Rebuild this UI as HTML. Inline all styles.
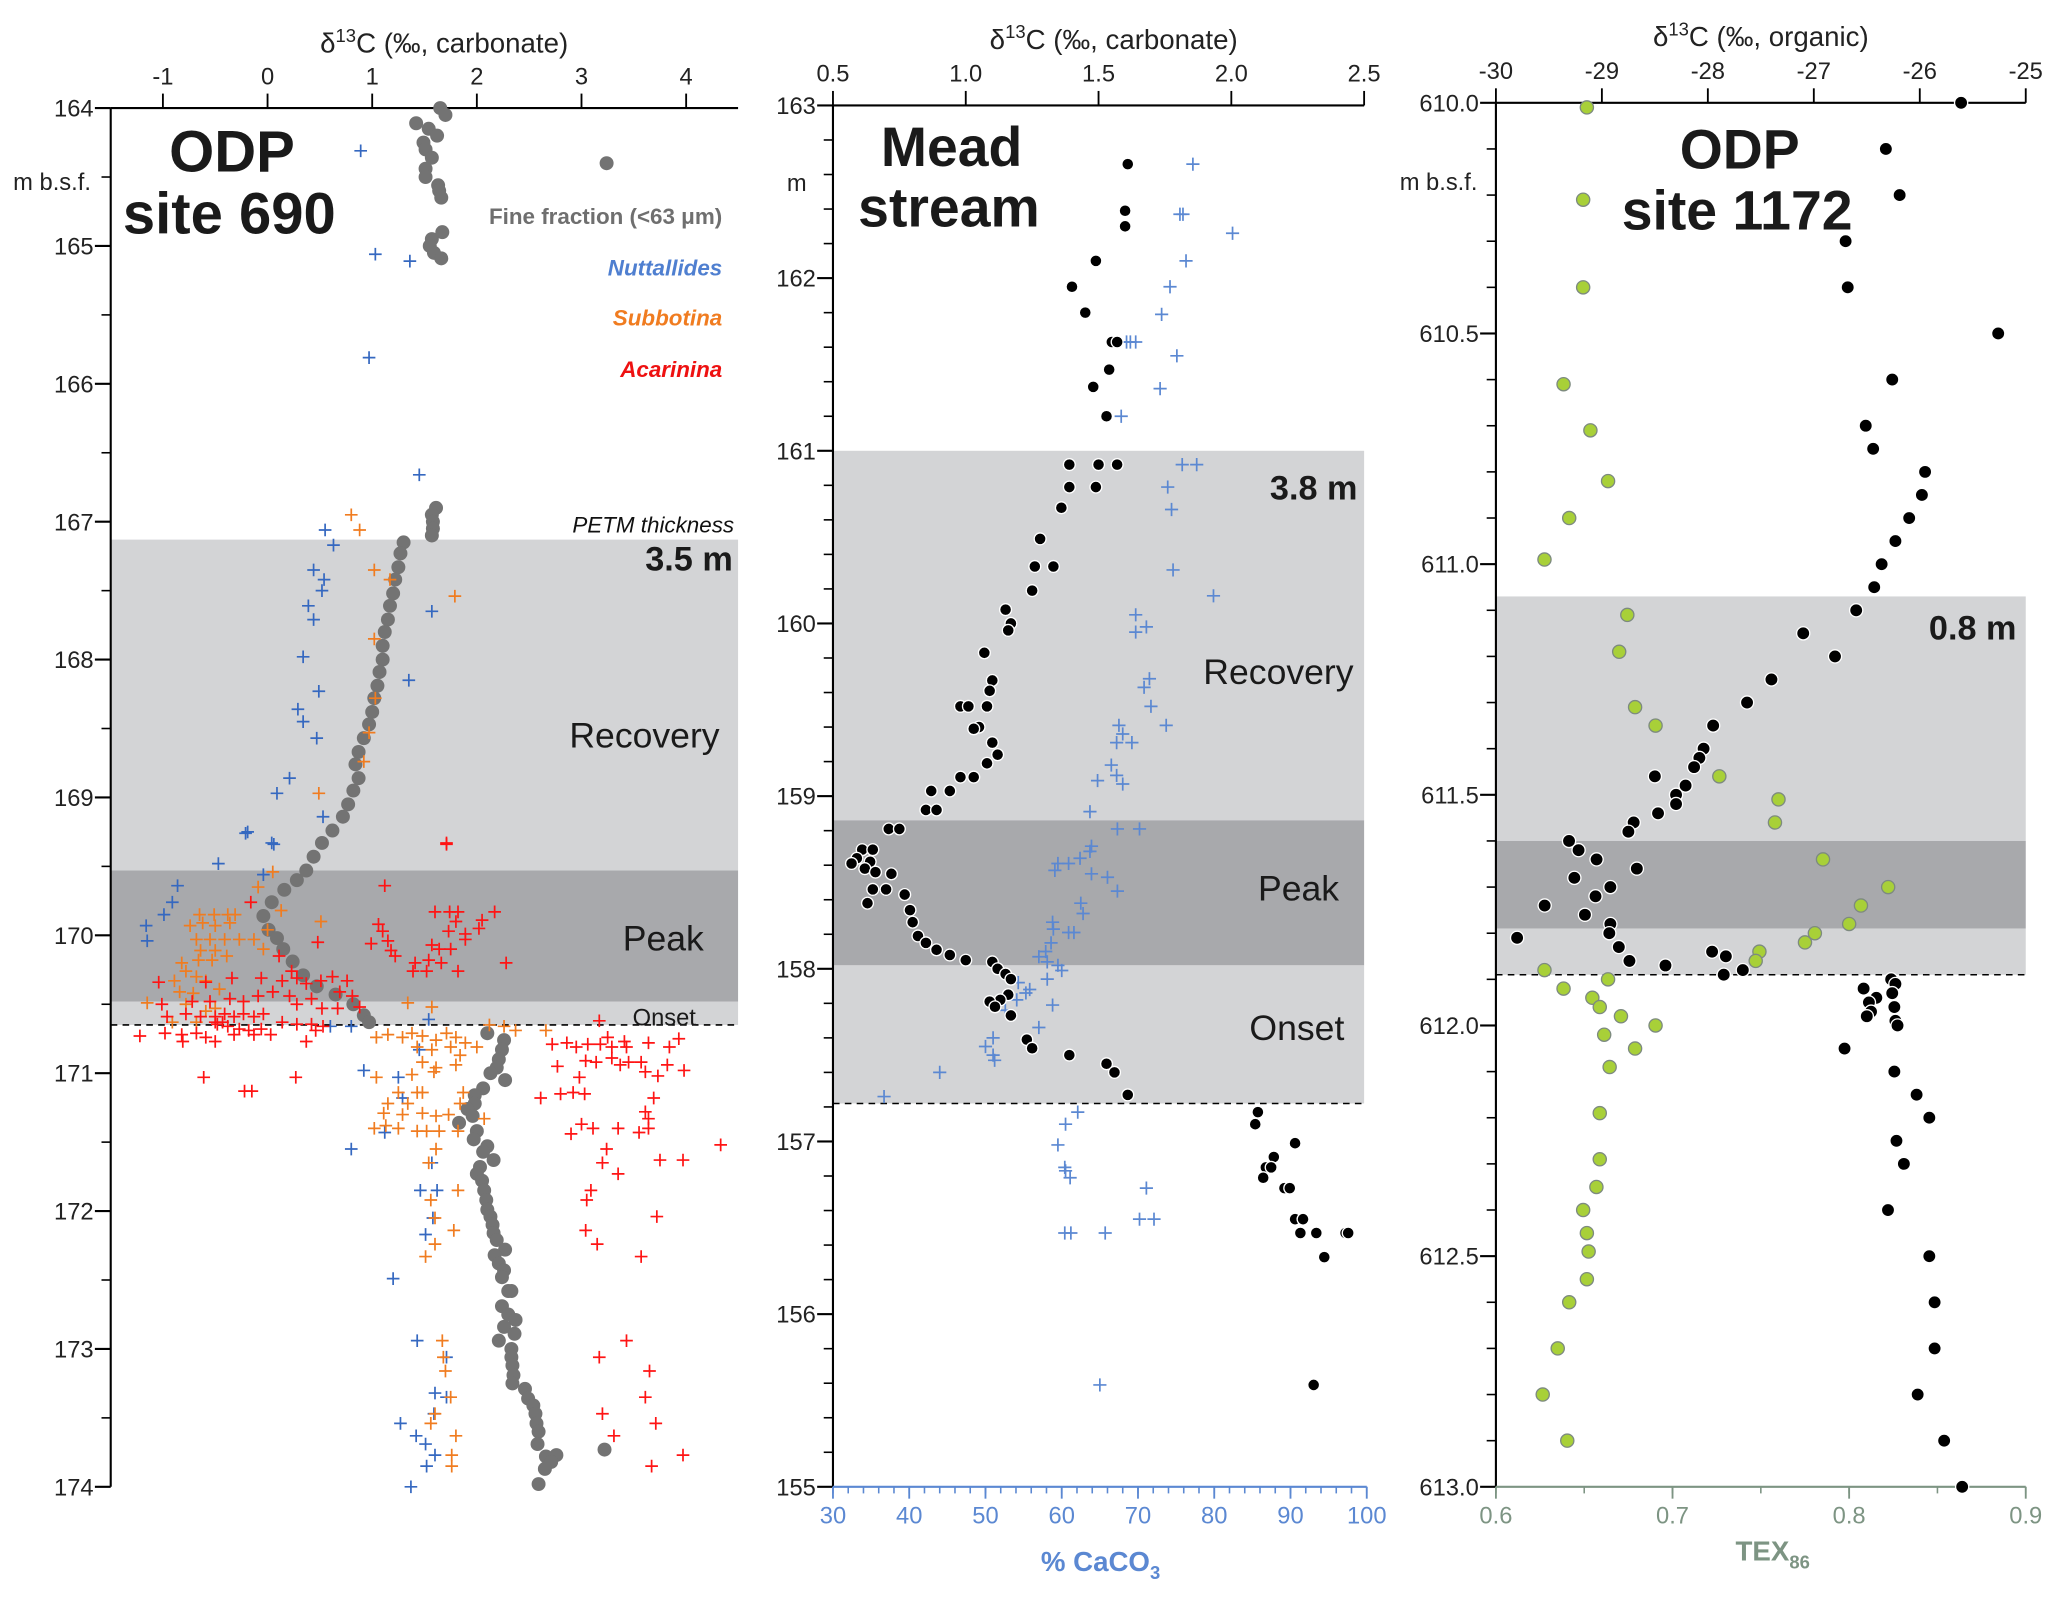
<!DOCTYPE html>
<html><head><meta charset="utf-8"><style>
html,body{margin:0;padding:0;background:#fff;}
svg{display:block;font-family:"Liberation Sans",Arial,sans-serif;}
</style></head><body>
<svg id="chart" width="2067" height="1597" viewBox="0 0 1568.3 1211.6" preserveAspectRatio="none" xmlns="http://www.w3.org/2000/svg">
<g id="bands"></g><g id="axes"></g><g id="marks"></g><g id="labels"></g>
</svg>
<script>
// ---------- Panel 1: ODP site 690 (d13C carbonate, m b.s.f.) ----------
const p1Ticks = [-1,0,1,2,3,4];
const p1DepthTicks = [164,165,166,167,168,169,170,171,172,173,174];
const p1Fine = [[1.65,164.0],[1.70,164.05],[1.42,164.11],[1.54,164.15],[1.62,164.2],[1.49,164.25],[1.51,164.3],[1.57,164.36],[1.51,164.44],[1.51,164.5],[1.63,164.56],[1.64,164.6],[1.66,164.65],[3.24,164.4],[1.67,164.9],[1.57,164.95],[1.55,165.0],[1.59,165.05],[1.66,165.09],[1.61,166.9],[1.57,166.95],[1.58,167.0],[1.58,167.05],[1.57,167.1],
[1.30,167.15],[1.27,167.23],[1.25,167.33],[1.22,167.42],[1.20,167.52],[1.17,167.61],[1.15,167.71],[1.12,167.8],[1.10,167.9],[1.10,168.0],[1.07,168.09],[1.05,168.19],[1.02,168.28],[1.0,168.38],[0.97,168.47],[0.92,168.57],[0.87,168.67],[0.84,168.76],[0.87,168.86],[0.82,168.95],[0.77,169.05],[0.72,169.14],[0.62,169.24],[0.52,169.33],[0.44,169.43],[0.37,169.53],[0.28,169.6],[0.16,169.67],[0.04,169.76],[-0.04,169.86],[0.01,169.96],[0.09,170.02],[0.15,170.1],[0.24,170.19],[0.34,170.29],[0.47,170.37],[0.65,170.43],[0.82,170.5],[0.92,170.58],[0.97,170.63],
[2.10,170.71],[2.26,170.76],[2.24,170.83],[2.21,170.9],[2.19,170.96],[2.27,171.05],[2.13,171.0],[2.06,171.11],[1.98,171.16],[1.98,171.22],[1.91,171.26],[1.96,171.31],[1.83,171.36],[2.0,171.42],[1.97,171.48],[2.10,171.53],[2.06,171.57],[2.16,171.63],[2.03,171.68],[2.0,171.73],[2.05,171.78],[2.07,171.85],[2.09,171.92],[2.10,171.99],[2.13,172.04],[2.15,172.1],[2.16,172.16],[2.19,172.21],[2.27,172.28],[2.17,172.32],[2.21,172.38],[2.26,172.43],[2.24,172.48],[2.30,172.58],[2.33,172.58],[2.24,172.69],[2.30,172.75],[2.37,172.79],[2.26,172.84],[2.36,172.89],[2.21,172.94],[2.33,173.0],[2.33,173.06],[2.34,173.12],[2.35,173.19],[2.34,173.25],[2.46,173.29],[2.49,173.36],[2.54,173.41],[2.56,173.47],[2.57,173.54],[2.59,173.6],[2.58,173.69],[2.66,173.78],[2.76,173.77],[2.71,173.82],[2.65,173.87],[2.59,173.98],[3.22,173.73]];
const p1Nutt = [[0.89,164.31],[1.03,165.06],[1.36,165.11],[0.97,165.81],[1.45,166.66],[0.55,167.06],[0.63,167.17],[0.44,167.35],[0.54,167.42],[0.52,167.5],[0.39,167.61],[0.44,167.71],[0.34,167.98],[0.49,168.23],[0.29,168.36],[0.34,168.45],[0.47,168.57],[0.21,168.86],[0.09,168.97],[-0.21,169.26],[0.04,169.33],[1.57,167.65],[1.35,168.15],
[0.53,169.14],[-0.19,169.25],[0.06,169.34],[-0.47,169.48],[-0.04,169.56],[-0.86,169.64],[-0.91,169.76],[-0.99,169.85],[-1.16,169.93],[-1.15,170.04],[0.60,170.66],[0.80,170.66],[1.54,170.61],[1.45,170.83],[0.92,170.98],[1.25,171.03],[1.29,171.18],[1.12,171.43],[0.80,171.55],[1.57,171.65],[1.46,171.85],[1.62,171.85],[1.58,172.05],[1.51,172.17],[1.20,172.49],[1.43,172.94],[1.71,173.06],[1.60,173.32],[1.71,173.35],[1.59,173.47],[1.27,173.54],[1.42,173.63],[1.51,173.69],[1.60,173.77],[1.52,173.85],[1.37,174.0]];
const p1Subb = [[0.80,166.95],[0.88,167.06],[1.02,167.35],[1.17,167.42],[1.79,167.54],[1.02,167.85],[1.03,168.28],[0.97,168.53],[0.92,168.74],[0.49,168.97],
[0.05,169.54],[-0.09,169.65],[0.13,169.82],[0.0,169.96],[0.51,169.9],[-0.04,170.1],[-0.65,169.85],[-0.51,169.85],[-0.38,169.85],[-0.31,169.85],[-0.74,169.93],[-0.62,169.91],[-0.50,169.93],[-0.36,169.91],[-0.68,170.03],[-0.55,170.03],[-0.41,170.03],[-0.27,170.03],[-0.13,170.03],[-0.64,170.11],[-0.50,170.11],[-0.39,170.15],[-0.66,170.18],[-0.53,170.18],[-0.82,170.2],[-0.78,170.26],[-0.68,170.3],[-0.89,170.33],[-0.59,170.33],[-0.84,170.41],[-0.71,170.42],[-0.46,170.39],[-1.15,170.49],[-0.78,170.5],[-0.59,170.55],[-0.50,170.53],[-0.91,170.63],[-0.68,170.63],[1.34,170.49],[1.57,170.52],
[1.04,170.74],[1.15,170.72],[1.29,170.74],[1.38,170.71],[1.48,170.73],[1.61,170.76],[1.71,170.71],[1.80,170.74],[1.89,170.78],[2.0,170.81],[2.26,170.66],[2.12,170.65],[2.37,170.69],[2.66,170.69],[1.43,170.81],[1.57,170.83],[1.75,170.81],[1.84,170.87],[1.48,170.92],[1.61,170.96],[1.80,170.94],[1.38,171.01],[1.59,170.99],[1.04,171.03],[1.25,171.14],[1.43,171.14],[1.15,171.22],[1.34,171.22],[1.48,171.14],[1.87,171.14],[1.84,171.22],[1.11,171.29],[1.29,171.3],[1.48,171.29],[1.61,171.31],[1.73,171.3],[2.07,171.33],[1.02,171.4],[1.13,171.38],[1.25,171.4],[1.43,171.42],[1.52,171.42],[1.64,171.42],[1.82,171.42],[1.61,171.55],[1.54,171.65],[1.82,171.85],[1.56,171.92],[1.60,172.05],[1.78,172.14],[1.60,172.24],[1.51,172.33],[1.67,172.94],[1.68,173.06],[1.70,173.16],[1.75,173.35],[1.60,173.47],[1.56,173.54],[1.80,173.63],[1.76,173.77],[1.76,173.85]];
const p1Acar = [[1.71,169.33],[1.71,169.34],[1.12,169.64],[-0.16,169.76],[1.60,169.83],[1.74,169.83],[1.82,169.83],[2.17,169.83],[1.06,169.92],[1.80,169.9],[2.05,169.89],[2.02,169.95],[1.89,169.99],[1.73,169.97],[1.10,169.97],[0.48,170.05],[0.99,170.06],[1.15,170.04],[1.18,170.11],[1.22,170.15],[1.57,170.07],[1.64,170.1],[1.75,170.1],[1.89,170.03],[1.41,170.2],[1.54,170.18],[1.66,170.2],[2.28,170.2],[1.39,170.26],[1.82,170.26],[1.52,170.26],[0.11,170.15],[0.23,170.26],[-0.34,170.31],[-0.06,170.31],[0.14,170.33],[0.28,170.31],[0.37,170.35],[0.51,170.33],[0.62,170.3],[0.76,170.33],[-1.04,170.34],[-0.59,170.34],[0.69,170.41],[0.81,170.44],[0.88,170.52],[0.67,170.53],[-1.01,170.5],[-0.72,170.48],[-0.55,170.48],[-0.36,170.46],[-0.23,170.48],[-0.09,170.44],[0.05,170.41],[0.21,170.44],[0.28,170.5],[0.42,170.46],[0.52,170.53],[-0.96,170.59],[-0.78,170.57],[-0.64,170.59],[-0.50,170.59],[-0.41,170.57],[-0.32,170.59],[-0.23,170.57],[-0.13,170.59],[-0.04,170.57],[0.14,170.63],[0.28,170.645],[0.42,170.645],[0.53,170.66],[-0.50,170.63],[-0.48,170.645],[-0.43,170.63],[-0.38,170.66],[-0.27,170.68],[-0.18,170.69],[-0.06,170.68],[0.03,170.72],[-1.22,170.73],[-0.98,170.71],[-0.82,170.72],[-0.68,170.71],[-0.59,170.74],[-0.81,170.77],[-0.50,170.77],[-0.32,170.72],[-0.13,170.72],[0.37,170.77],[0.46,170.69],[3.17,170.62],[-0.61,171.03],[-0.22,171.13],[-0.15,171.13],[0.27,171.03],
[2.72,170.79],[2.86,170.78],[2.95,170.81],[3.06,170.79],[3.18,170.79],[3.25,170.74],[3.29,170.81],[3.41,170.77],[3.43,170.81],[3.64,170.78],[3.84,170.81],[3.93,170.75],[3.29,170.89],[3.04,170.91],[2.77,170.95],[2.98,171.03],[3.14,170.92],[3.37,170.94],[3.45,170.92],[3.57,170.92],[3.61,170.99],[3.73,171.02],[3.82,170.94],[3.98,170.98],[2.61,171.18],[2.80,171.15],[2.92,171.14],[3.03,171.15],[3.69,171.18],[3.61,171.28],[3.64,171.33],[2.90,171.44],[3.0,171.37],[3.11,171.4],[3.35,171.4],[3.55,171.43],[3.64,171.4],[3.24,171.55],[3.20,171.65],[4.33,171.52],[3.75,171.63],[3.97,171.63],[3.35,171.73],[3.09,171.85],[3.05,171.92],[3.72,172.04],[3.04,172.14],[3.15,172.24],[3.57,172.33],[3.43,172.94],[3.17,173.06],[3.65,173.16],[3.61,173.35],[3.20,173.47],[3.71,173.54],[3.31,173.63],[3.97,173.77],[3.67,173.85]];
const p1Bands = [[167.13,169.53,'light'],[169.53,170.48,'dark'],[170.48,170.65,'light']];
const p1Onset = 170.65;

// ---------- Panel 2: Mead stream ----------
const p2Ticks = [0.5,1.0,1.5,2.0,2.5];
const p2DepthTicks = [155,156,157,158,159,160,161,162,163];
const p2CaTicks = [30,40,50,60,70,80,90,100];
const p2D13C = [[1.61,162.66],[1.60,162.39],[1.60,162.3],[1.49,162.1],[1.40,161.95],[1.45,161.8],[1.55,161.63],[1.57,161.63],[1.54,161.47],[1.48,161.37],[1.53,161.2],[1.39,160.92],[1.50,160.92],[1.57,160.92],[1.39,160.79],[1.49,160.79],[1.36,160.67],[1.28,160.49],[1.26,160.33],[1.33,160.33],[1.25,160.19],[1.15,160.08],[1.17,160.0],[1.16,159.96],[1.07,159.83],[1.10,159.67],[1.09,159.61],[0.98,159.52],[1.01,159.52],[1.08,159.52],[1.05,159.4],[1.03,159.39],[1.10,159.31],[1.12,159.24],[1.08,159.19],[0.98,159.11],[1.03,159.11],[0.87,159.03],[0.94,159.03],[0.85,158.92],[0.89,158.92],[0.71,158.81],[0.75,158.81],[0.61,158.69],[0.65,158.69],[0.59,158.64],[0.64,158.62],[0.62,158.58],[0.66,158.56],[0.57,158.61],[0.72,158.55],[0.65,158.46],[0.70,158.46],[0.63,158.38],[0.77,158.43],[0.79,158.34],[0.80,158.27],[0.82,158.19],[0.85,158.15],[0.89,158.11],[0.94,158.08],[1.00,158.05],[1.10,158.04],[1.12,158.0],[1.15,157.97],[1.17,157.94],[1.16,157.85],[1.13,157.82],[1.09,157.81],[1.11,157.78],[1.17,157.73],[1.23,157.59],[1.25,157.54],[1.39,157.5],[1.53,157.45],[1.56,157.4],[1.61,157.27],[2.10,157.17],[2.09,157.1],[2.24,156.99],[2.16,156.91],[2.13,156.85],[2.15,156.85],[2.12,156.79],[2.20,156.73],[2.22,156.73],[2.24,156.55],[2.27,156.55],[2.26,156.47],[2.32,156.47],[2.43,156.47],[2.44,156.47],[2.35,156.33],[2.31,155.59]];
const p2CaCO3 = [[77.2,162.66],[75.5,162.37],[75.9,162.37],[82.4,162.26],[76.3,162.1],[74.2,161.95],[73.1,161.79],[68.5,161.63],[69.0,161.63],[69.7,161.63],[75.1,161.55],[72.9,161.36],[67.8,161.2],[75.8,160.92],[77.7,160.92],[73.9,160.79],[74.4,160.66],[74.6,160.31],[79.9,160.16],[69.7,160.05],[71.1,159.98],[69.7,159.95],[71.5,159.68],[70.8,159.63],[71.7,159.52],[73.7,159.41],[67.5,159.41],[68.0,159.36],[67.2,159.31],[69.2,159.31],[66.5,159.18],[67.2,159.12],[68.0,159.07],
[64.7,159.09],[63.7,158.91],[67.3,158.81],[70.2,158.81],[63.9,158.71],[63.7,158.68],[62.4,158.64],[60.9,158.61],[59.5,158.61],[59.1,158.57],[63.9,158.55],[66.0,158.53],[67.3,158.45],[62.5,158.38],[62.8,158.32],[58.8,158.27],[58.9,158.23],[60.9,158.21],[61.6,158.21],[58.6,158.15],[57.9,158.1],[57.0,158.07],[58.1,158.04],[59.5,158.02],[60.0,157.99],[58.1,157.94],[54.3,157.92],[55.8,157.88],[55.3,157.86],[54.1,157.82],[58.8,157.79],[52.6,157.76],[57.0,157.66],[51.0,157.6],[50.0,157.55],[51.0,157.5],[51.2,157.47],[44.0,157.4],[36.7,157.26],[62.1,157.17],[60.5,157.1],[59.5,156.98],[60.4,156.85],[60.5,156.83],[61.1,156.79],[71.1,156.73],[70.2,156.55],[72.1,156.55],[60.4,156.47],[61.2,156.47],[65.7,156.47],[65.0,155.59]];
const p2Bands = [[161.0,158.86,'light'],[158.86,158.02,'dark'],[158.02,157.22,'light']];
const p2Onset = 157.22;

// ---------- Panel 3: ODP site 1172 ----------
const p3Ticks = [-30,-29,-28,-27,-26,-25];
const p3DepthTicks = [610.0,610.5,611.0,611.5,612.0,612.5,613.0];
const p3TexTicks = [0.6,0.7,0.8,0.9];
const p3D13C = [[-25.61,610.0],[-26.32,610.1],[-26.19,610.2],[-26.70,610.3],[-26.68,610.4],[-25.26,610.5],[-26.26,610.6],[-26.51,610.7],[-26.44,610.75],[-25.95,610.8],[-25.98,610.85],[-26.10,610.9],[-26.23,610.95],[-26.36,611.0],[-26.43,611.05],[-26.60,611.1],[-27.10,611.15],[-26.80,611.2],[-27.40,611.25],[-27.63,611.3],[-27.95,611.35],[-28.04,611.4],[-28.08,611.42],[-28.13,611.44],[-28.50,611.46],[-28.21,611.48],[-28.30,611.5],[-28.30,611.52],[-28.47,611.54],[-28.70,611.56],[-28.75,611.58],[-29.31,611.6],[-29.22,611.62],[-29.05,611.64],[-28.67,611.66],[-29.26,611.68],[-28.92,611.7],[-29.06,611.72],[-29.54,611.74],[-29.16,611.76],[-28.92,611.78],[-28.93,611.8],[-29.80,611.81],[-28.84,611.83],[-28.74,611.86],[-28.40,611.87],[-27.96,611.84],[-27.83,611.85],[-27.85,611.89],[-27.67,611.88],[-26.27,611.9],[-26.23,611.91],[-26.53,611.92],[-26.41,611.94],[-26.26,611.93],[-26.48,611.95],[-26.24,611.96],[-26.46,611.97],[-26.50,611.98],[-26.23,611.99],[-26.21,612.0],[-26.71,612.05],[-26.24,612.1],[-26.03,612.15],[-25.91,612.2],[-26.22,612.25],[-26.15,612.3],[-26.30,612.4],[-25.91,612.5],[-25.86,612.6],[-25.86,612.7],[-26.02,612.8],[-25.77,612.9],[-25.60,613.0]];
const p3Tex = [[0.6515,610.01],[0.6494,610.21],[0.6494,610.4],[0.6383,610.61],[0.6535,610.71],[0.6635,610.82],[0.6415,610.9],[0.6275,610.99],[0.6744,611.11],[0.6698,611.19],[0.6788,611.31],[0.6904,611.35],[0.7265,611.46],[0.760,611.51],[0.758,611.56],[0.7852,611.64],[0.8221,611.7],[0.8067,611.74],[0.800,611.78],[0.7806,611.8],[0.775,611.82],[0.7492,611.84],[0.7471,611.86],[0.6275,611.88],[0.6635,611.9],[0.6383,611.92],[0.6546,611.94],[0.6588,611.96],[0.6708,611.98],[0.6904,612.0],[0.6613,612.02],[0.6788,612.05],[0.6644,612.09],[0.6588,612.19],[0.6588,612.29],[0.6569,612.35],[0.6494,612.4],[0.6515,612.45],[0.6525,612.49],[0.6515,612.55],[0.6415,612.6],[0.635,612.7],[0.6265,612.8],[0.6404,612.9]];
const p3Bands = [[611.07,611.6,'light'],[611.6,611.79,'dark'],[611.79,611.89,'light']];
const p3Onset = 611.89;

// ---------- helpers ----------
const NS='http://www.w3.org/2000/svg';
function lin(d0,d1,r0,r1){return v=>r0+(v-d0)*(r1-r0)/(d1-d0);}
function el(parent,tag,attrs,text){const e=document.createElementNS(NS,tag);for(const k in attrs)e.setAttribute(k,attrs[k]);if(text!==undefined)e.textContent=text;parent.appendChild(e);return e;}
const gB=document.getElementById('bands'),gA=document.getElementById('axes'),gM=document.getElementById('marks'),gL=document.getElementById('labels');
const LIGHT='#d3d4d6',DARK='#a8a9ac';

function bands(list,y,xl,xr,onset,pname){
  list.forEach(b=>{const y0=y(b[0]),y1=y(b[1]);
    const r=el(gB,'rect',{x:xl,y:Math.min(y0,y1),width:xr-xl,height:Math.abs(y1-y0),fill:b[2]=='dark'?DARK:LIGHT});
    
    });
  const l=el(gB,'line',{x1:xl,x2:xr,y1:y(onset),y2:y(onset),stroke:'#000','stroke-width':1.2,'stroke-dasharray':'5,4'});
  
  
}
function topAxis(x,ticks,xl,xr,yt,fmt,pname){
  const a=el(gA,'line',{x1:xl,x2:xr,y1:yt,y2:yt,stroke:'#000','stroke-width':1.6});
  
  
  ticks.forEach(t=>{el(gA,'line',{x1:x(t),x2:x(t),y1:yt-11,y2:yt,stroke:'#000','stroke-width':1.4});
    const tx=el(gL,'text',{x:x(t),y:yt-18,'text-anchor':'middle','font-size':18,fill:'#222'},fmt(t));
    
    });
}
function leftAxis(y,ticks,minor,xl,yt,yb,fmt,pname){
  const a=el(gA,'line',{x1:xl,x2:xl,y1:yt,y2:yb,stroke:'#000','stroke-width':1.6});
  
  
  minor.forEach(t=>el(gA,'line',{x1:xl-7,x2:xl,y1:y(t),y2:y(t),stroke:'#000','stroke-width':1.2}));
  ticks.forEach(t=>{el(gA,'line',{x1:xl-12,x2:xl,y1:y(t),y2:y(t),stroke:'#000','stroke-width':1.6});
    const tx=el(gL,'text',{x:xl-13,y:y(t)+6.5,'text-anchor':'end','font-size':18,fill:'#222'},fmt(t));
    
    });
}
function bottomAxis(x,ticks,minor,xl,xr,yb,color,fmt,pname){
  const a=el(gA,'line',{x1:xl,x2:xr,y1:yb,y2:yb,stroke:color,'stroke-width':1.6});
  
  
  minor.forEach(t=>el(gA,'line',{x1:x(t),x2:x(t),y1:yb,y2:yb+5,stroke:color,'stroke-width':1.2}));
  ticks.forEach(t=>{el(gA,'line',{x1:x(t),x2:x(t),y1:yb,y2:yb+9,stroke:color,'stroke-width':1.4});
    const tx=el(gL,'text',{x:x(t),y:yb+28,'text-anchor':'middle','font-size':18,fill:color},fmt(t));
    
    });
}
function dots(data,x,y,r,fill,stroke,name){
  data.forEach(d=>{const c=el(gM,'circle',{cx:x(d[0]),cy:y(d[1]),r:r,fill:fill,stroke:stroke,'stroke-width':stroke=='none'?0:1});
    
    });
}
function crosses(data,x,y,s,color,name){
  data.forEach(d=>{const cx=x(d[0]),cy=y(d[1]);
    const p=el(gM,'path',{d:`M${cx-s},${cy}H${cx+s}M${cx},${cy-s}V${cy+s}`,stroke:color,'stroke-width':1.3,fill:'none'});
    
    });
}
function txt(x,y,s,attrs,name){const t=el(gL,'text',Object.assign({x:x,y:y},attrs),s);
  
  return t;}
function d13title(cx,y,suffix,name){
  const t=el(gL,'text',{x:cx,y:y,'text-anchor':'middle','font-size':21,fill:'#222'});
  
  
  el(t,'tspan',{},'δ');el(t,'tspan',{dy:-8,'font-size':14},'13');el(t,'tspan',{dy:8},'C (‰, '+suffix+')');
}
function range(a,b,s){const r=[];for(let v=a;v<=b+1e-9;v+=s)r.push(Math.round(v*1000)/1000);return r;}

// ---------- Panel 1 ----------
{const x=lin(0,1,203,282.4),y=lin(164,174,82,1128),xl=84,xr=560;
 bands(p1Bands,y,xl,xr,p1Onset,'site690');
 topAxis(x,p1Ticks,xl,xr,82,t=>String(t),'site690');
 leftAxis(y,p1DepthTicks,range(164.5,173.5,1),xl,82,1128,t=>String(t),'site690');
 d13title(337,40,'carbonate','site690-x-axis-title');
 dots(p1Fine,x,y,5.3,'#737373','none','fine-fraction-point');
 crosses(p1Nutt,x,y,4.8,'#3568c0','nuttallides-point');
 crosses(p1Subb,x,y,4.8,'#f07c20','subbotina-point');
 crosses(p1Acar,x,y,4.8,'#ff1414','acarinina-point');
 txt(10,144,'m b.s.f.',{'font-size':18,fill:'#222'},'site690-y-axis-title');
 txt(176,130,'ODP',{'font-size':44,'font-weight':'bold','text-anchor':'middle',fill:'#1a1a1a'},'site690-title');
 txt(174,177,'site 690',{'font-size':44,'font-weight':'bold','text-anchor':'middle',fill:'#1a1a1a'},'site690-title-line2');
 txt(548,170,'Fine fraction (<63 μm)',{'font-size':17,'font-weight':'bold','text-anchor':'end',fill:'#6f6f6f'},'legend-fine-fraction');
 txt(548,209,'Nuttallides',{'font-size':17,'font-weight':'bold','font-style':'italic','text-anchor':'end',fill:'#4f7fd0'},'legend-nuttallides');
 txt(548,247,'Subbotina',{'font-size':17,'font-weight':'bold','font-style':'italic','text-anchor':'end',fill:'#f07c20'},'legend-subbotina');
 txt(548,286,'Acarinina',{'font-size':17,'font-weight':'bold','font-style':'italic','text-anchor':'end',fill:'#ee1111'},'legend-acarinina');
 txt(557,404,'PETM thickness',{'font-size':17,'font-style':'italic','text-anchor':'end',fill:'#111'},'petm-thickness-label');
 txt(556,433,'3.5 m',{'font-size':26,'font-weight':'bold','text-anchor':'end',fill:'#1a1a1a'},'site690-thickness');
 txt(546,567,'Recovery',{'font-size':27,'text-anchor':'end',fill:'#1a1a1a'},'site690-recovery-label');
 txt(534,721,'Peak',{'font-size':27,'text-anchor':'end',fill:'#1a1a1a'},'site690-peak-label');
 txt(528,778,'Onset',{'font-size':18,'text-anchor':'end',fill:'#1a1a1a'},'site690-onset-label');
}
// ---------- Panel 2 ----------
{const x=lin(0.5,2.5,632,1035),xc=lin(30,100,632,1037),y=lin(163,155,80,1128),xl=632,xr=1035;
 bands(p2Bands,y,xl,xr,p2Onset,'mead');
 topAxis(x,p2Ticks,xl,xr,80,t=>t.toFixed(1),'mead');
 leftAxis(y,p2DepthTicks,range(155.2,162.8,0.2).filter(v=>Math.abs(v-Math.round(v))>0.01),xl,80,1128,t=>String(t),'mead');
 bottomAxis(xc,p2CaTicks,range(30,100,2),xl,1037,1128,'#5b88d2',t=>String(t),'mead');
 d13title(845,37,'carbonate','mead-x-axis-title');
 crosses(p2CaCO3,xc,y,5,'#5b88d2','caco3-point');
 dots(p2D13C,x,y,4.5,'#000','#fff','mead-d13c-point');
 txt(597,145,'m',{'font-size':18,fill:'#222'},'mead-y-axis-title');
 txt(722,126,'Mead',{'font-size':42,'font-weight':'bold','text-anchor':'middle',fill:'#1a1a1a'},'mead-title');
 txt(720,172,'stream',{'font-size':42,'font-weight':'bold','text-anchor':'middle',fill:'#1a1a1a'},'mead-title-line2');
 txt(1030,379,'3.8 m',{'font-size':26,'font-weight':'bold','text-anchor':'end',fill:'#1a1a1a'},'mead-thickness');
 txt(1027,519,'Recovery',{'font-size':27,'text-anchor':'end',fill:'#1a1a1a'},'mead-recovery-label');
 txt(1016,683,'Peak',{'font-size':27,'text-anchor':'end',fill:'#1a1a1a'},'mead-peak-label');
 txt(1020,789,'Onset',{'font-size':27,'text-anchor':'end',fill:'#1a1a1a'},'mead-onset-label');
 const t=txt(835,1192,'% CaCO',{'font-size':21,'font-weight':'bold','text-anchor':'middle',fill:'#5b88d2'},'caco3-axis-title');
 el(t,'tspan',{dy:6,'font-size':14},'3');
}
// ---------- Panel 3 ----------
{const x=lin(-30,-25,1135,1537),xt=lin(0.6,0.9,1135,1537),y=lin(610,613,78,1128),xl=1135,xr=1537;
 bands(p3Bands,y,xl,xr,p3Onset,'site1172');
 topAxis(x,p3Ticks,xl,xr,78,t=>String(t),'site1172');
 leftAxis(y,p3DepthTicks,range(610.1,612.9,0.1).filter(v=>Math.abs(v*2-Math.round(v*2))>0.01),xl,78,1128,t=>t.toFixed(1),'site1172');
 bottomAxis(xt,p3TexTicks,range(0.6,0.9,0.05),xl,xr,1128,'#7d9483',t=>t.toFixed(1),'site1172');
 d13title(1336,35,'organic','site1172-x-axis-title');
 dots(p3Tex,xt,y,5,'#a8d038','#7d8a80','tex86-point');
 dots(p3D13C,x,y,5,'#000','#fff','site1172-d13c-point');
 txt(1062,144,'m b.s.f.',{'font-size':18,fill:'#222'},'site1172-y-axis-title');
 txt(1320,128,'ODP',{'font-size':42,'font-weight':'bold','text-anchor':'middle',fill:'#1a1a1a'},'site1172-title');
 txt(1318,174,'site 1172',{'font-size':42,'font-weight':'bold','text-anchor':'middle',fill:'#1a1a1a'},'site1172-title-line2');
 txt(1530,485,'0.8 m',{'font-size':26,'font-weight':'bold','text-anchor':'end',fill:'#1a1a1a'},'site1172-thickness');
 const t=txt(1345,1184,'TEX',{'font-size':21,'font-weight':'bold','text-anchor':'middle',fill:'#7d9483'},'tex86-axis-title');
 el(t,'tspan',{dy:6,'font-size':14},'86');
}
</script>
</body></html>
